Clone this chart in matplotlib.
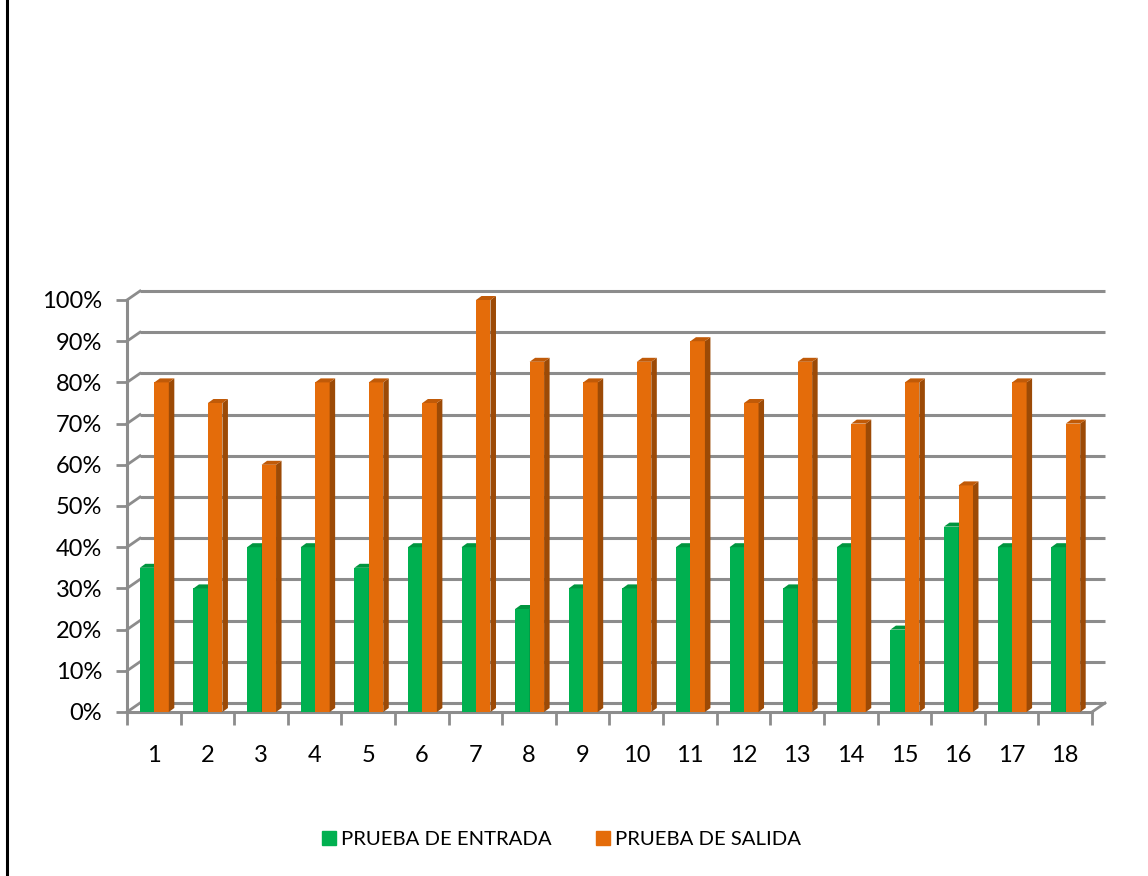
import matplotlib
matplotlib.use("Agg")
import matplotlib.pyplot as plt
from matplotlib.patches import Polygon
from matplotlib.lines import Line2D
import numpy as np

plt.rcParams['font.family'] = ['Lato', 'DejaVu Sans']

# data
categories = [str(i) for i in range(1, 19)]
entrada = [0.35, 0.30, 0.40, 0.40, 0.35, 0.40, 0.40, 0.25, 0.30,
           0.30, 0.40, 0.40, 0.30, 0.40, 0.20, 0.45, 0.40, 0.40]
salida = [0.80, 0.75, 0.60, 0.80, 0.80, 0.75, 1.00, 0.85, 0.80,
          0.85, 0.90, 0.75, 0.85, 0.70, 0.80, 0.55, 0.80, 0.70]
yticks = np.arange(0, 1.01, 0.1)
ytick_labels = [f"{int(round(v * 100))}%" for v in yticks]

green, green_side, green_top = "#00B050", "#00803A", "#00953F"
orange, orange_side, orange_top = "#E46C0A", "#9C4A06", "#C05A08"
grid_col = "#8C8C8C"

W, H = 1148, 876
fig = plt.figure(figsize=(W / 100, H / 100), dpi=100)
ax_l, ax_r, ax_b, ax_t = 127, 1092, 876 - 712, 876 - 300
ax = fig.add_axes([ax_l / W, ax_b / H, (ax_r - ax_l) / W, (ax_t - ax_b) / H])
n = len(categories)
ax.set_xlim(0, n)
ax.set_ylim(0, 1)

# pixel -> data conversion for the pseudo 3D depth
px_x = n / (ax_r - ax_l)
px_y = 1.0 / (ax_t - ax_b)
wall_dx, wall_dy = 13 * px_x, 9 * px_y
bar_dx, bar_dy = 5.5 * px_x, 4 * px_y

# back wall gridlines + left diagonal connectors
for v in yticks:
    ax.plot([wall_dx, n + wall_dx], [v + wall_dy, v + wall_dy], color=grid_col,
            lw=2.2, clip_on=False, zorder=1, solid_capstyle='butt')
    ax.plot([0, wall_dx], [v, v + wall_dy], color=grid_col, lw=2.0,
            clip_on=False, zorder=1)
# floor front edge and right diagonal
ax.plot([0, n], [0, 0], color=grid_col, lw=2.2, clip_on=False, zorder=1)
ax.plot([n, n + wall_dx], [0, wall_dy], color=grid_col, lw=2.0, clip_on=False, zorder=1)
ax.plot([0, 0], [0, 1], color=grid_col, lw=2.2, clip_on=False, zorder=1)

# bars
w = 0.27
x = np.arange(n)
x_g = x + 0.24
x_o = x_g + w


def draw_bars(xs, vals, face, side, top):
    ax.bar(xs, vals, width=w, align='edge', color=face, edgecolor='none',
           zorder=3, clip_on=False)
    for x0, h in zip(xs, vals):
        x1 = x0 + w
        ax.add_patch(Polygon([(x1, 0), (x1 + bar_dx, bar_dy), (x1 + bar_dx, h + bar_dy), (x1, h)],
                             closed=True, color=side, lw=0, zorder=3, clip_on=False))
        ax.add_patch(Polygon([(x0, h), (x0 + bar_dx, h + bar_dy), (x1 + bar_dx, h + bar_dy), (x1, h)],
                             closed=True, color=top, lw=0, zorder=3, clip_on=False))


draw_bars(x_g, entrada, green, green_side, green_top)
draw_bars(x_o, salida, orange, orange_side, orange_top)

for s in ax.spines.values():
    s.set_visible(False)

ax.set_yticks(yticks)
ax.set_yticklabels(ytick_labels, fontsize=17)
ax.set_xticks(x + 0.5)
ax.set_xticklabels(categories, fontsize=17)
ax.set_xticks(np.arange(n + 1), minor=True)
ax.tick_params(axis='y', length=8, width=2, color=grid_col, pad=10)
ax.tick_params(axis='x', which='major', length=0, pad=24)
ax.tick_params(axis='x', which='minor', length=9, width=2, color=grid_col)
ax.patch.set_visible(False)

# legend
handles = [Line2D([], [], ls='none', marker='s', markersize=10, color=green),
           Line2D([], [], ls='none', marker='s', markersize=10, color=orange)]
fig.legend(handles, ["PRUEBA DE ENTRADA", "PRUEBA DE SALIDA"], loc='center',
           bbox_to_anchor=(560 / W, 1 - 839 / H), ncol=2, frameon=False,
           fontsize=14.6, handletextpad=0.1, columnspacing=2.0, handlelength=1.0)

# left border line
fig.add_artist(Line2D([7 / W, 7 / W], [0, 1], color='black', lw=2.2))

fig.savefig("out.png", dpi=100)
